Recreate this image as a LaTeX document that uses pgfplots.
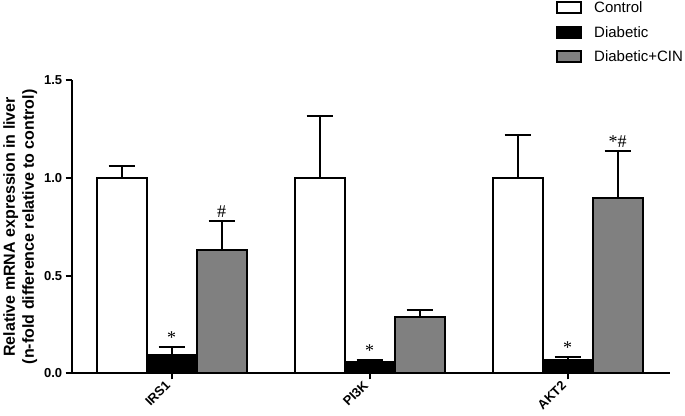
\documentclass[border=0pt]{standalone}
\usepackage{fontspec}
\setmainfont{Liberation Sans}
\newfontfamily\seriffont{Liberation Serif}
\usepackage{pgfplots}
\pgfplotsset{compat=1.18}
\usepackage{pgfplotstable}

% lab codes: 0 none, 1 "*", 2 "#", 3 "*#"
\pgfplotstableread{
x ctrl ctrlerr ctrllab diab diaberr diablab cin cinerr cinlab
0 1.00 0.06 0 0.092 0.041 1 0.63 0.15 2
1 1.00 0.32 0 0.060 0.010 1 0.287 0.035 0
2 1.00 0.22 0 0.067 0.015 1 0.896 0.241 3
}\datatable

\definecolor{cingray}{HTML}{808080}

\pgfplotsset{
  mybar/.style={draw=black, line width=2pt,
    legend image code/.code={\draw[##1, line width=2pt] (0pt,-5pt) rectangle (24pt,6pt); \path (34pt,0pt);},
    error bars/.cd, y dir=plus, y explicit, /pgfplots/.cd,
    nodes near coords={\ifcase\pgfplotspointmeta\or \raisebox{-3pt}{*}\or \#\or *\#\fi},
    point meta=explicit symbolic,
    every node near coord/.append style={anchor=south, inner sep=1pt, black,
      yshift=\myerr*195.33pt+1.5pt, font=\seriffont\fontsize{18}{18}\selectfont}},
}

\begin{document}
\begin{tikzpicture}
\begin{axis}[
  ybar=0pt, bar width=50pt,
  scale only axis, width=598pt, height=293pt,
  xmin=-0.505, xmax=2.515, ymin=0, ymax=1.5,
  axis x line*=bottom, axis y line*=left,
  axis line style={line width=2pt, -, black},
  xtick={0,1,2}, xticklabels={IRS1,PI3K,AKT2},
  ytick={0,0.5,1,1.5},
  tick align=outside, major tick length=6pt,
  tick style={line width=2pt, black},
  /pgf/number format/.cd, fixed, fixed zerofill, precision=1, assume math mode=true,
  /pgfplots/.cd,
  yticklabel style={font=\bfseries\fontsize{13}{13}\selectfont},
  xticklabel style={rotate=45, anchor=east, xshift=-2pt, font=\bfseries\fontsize{13}{13}\selectfont},
  ylabel={Relative mRNA expression in liver\\(n-fold difference relative to control)},
  ylabel style={align=center, font=\bfseries\fontsize{16}{19}\selectfont},
  legend style={at={(0.81,1.275)}, anchor=north west, draw=none, fill=none,
    font=\fontsize{15}{15}\selectfont, row sep=8pt, inner sep=0pt,
    cells={anchor=west}},
  legend cell align=left,
  error bars/error bar style={line width=2pt, black, solid},
  error bars/error mark options={rotate=90, mark size=13pt, line width=2pt, black, solid},
]
\addplot[mybar, fill=white, visualization depends on={\thisrow{ctrlerr} \as \myerr}]
  table[x=x, y=ctrl, y error=ctrlerr, meta=ctrllab] {\datatable};
\addlegendentry{Control}
\addplot[mybar, fill=black, visualization depends on={\thisrow{diaberr} \as \myerr}]
  table[x=x, y=diab, y error=diaberr, meta=diablab] {\datatable};
\addlegendentry{Diabetic}
\addplot[mybar, fill=cingray, visualization depends on={\thisrow{cinerr} \as \myerr}]
  table[x=x, y=cin, y error=cinerr, meta=cinlab] {\datatable};
\addlegendentry{Diabetic+CIN}
\end{axis}
\end{tikzpicture}
\end{document}
